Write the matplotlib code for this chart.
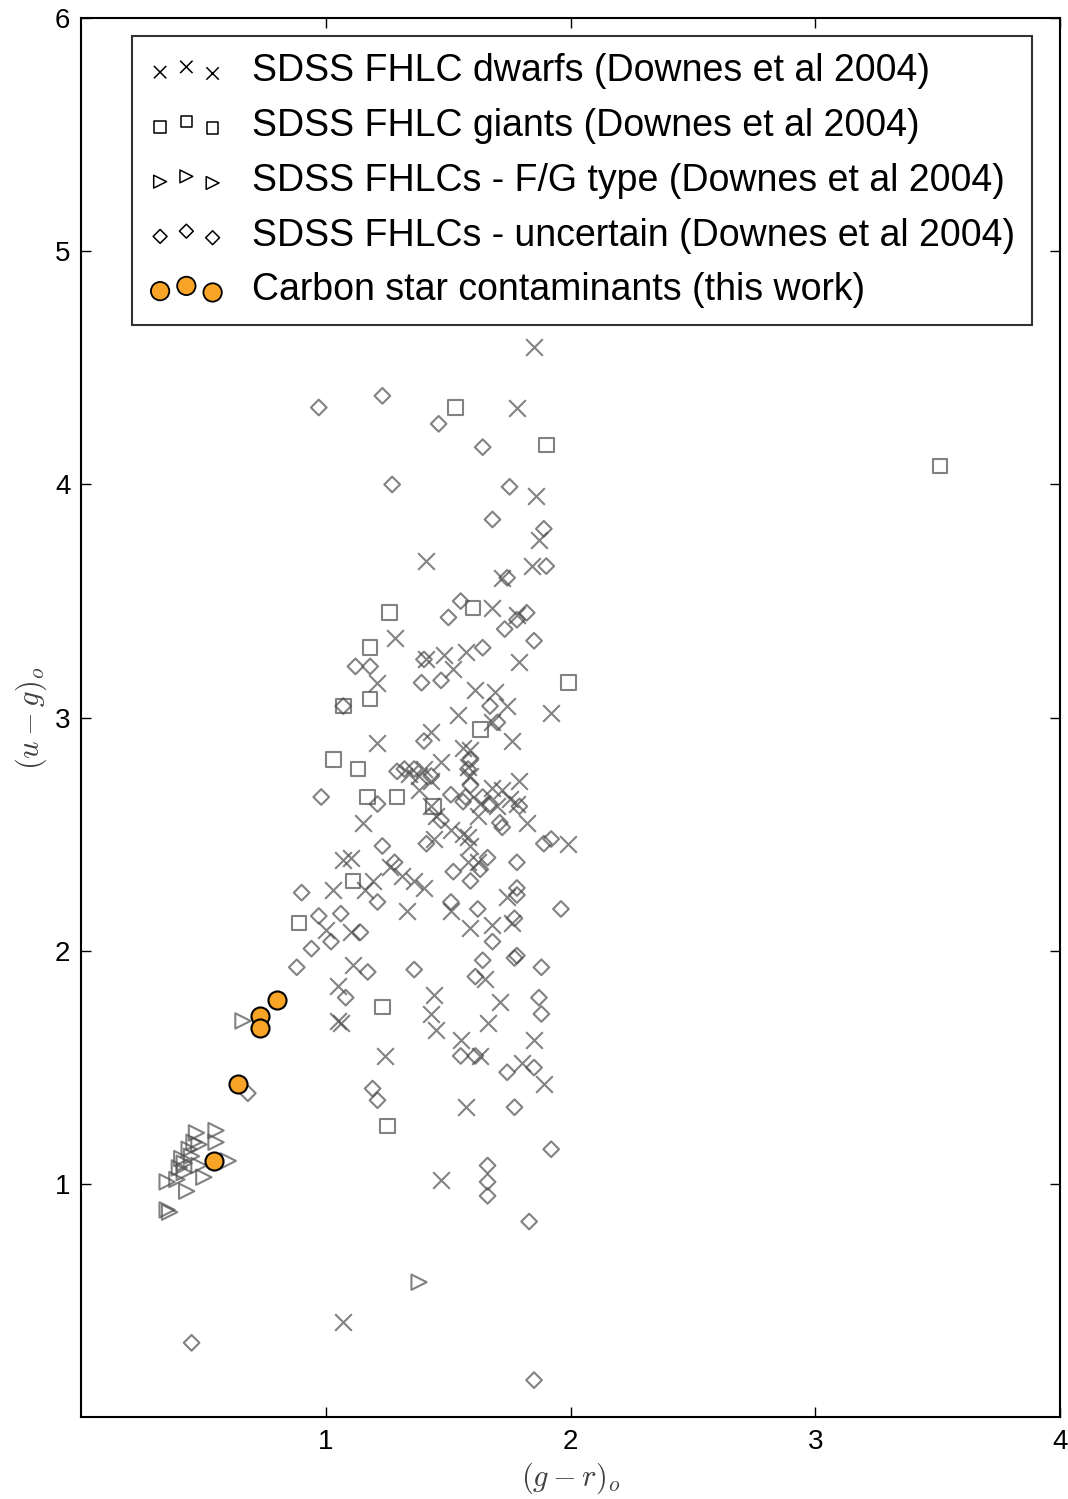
import matplotlib
matplotlib.use('Agg')
import matplotlib.pyplot as plt
import numpy as np

plt.rcParams['font.family'] = ['Liberation Sans', 'DejaVu Sans']
plt.rcParams['mathtext.fontset'] = 'cm'

# (g-r)_o, (u-g)_o colours for each sample
dwarf_gr = [1.85, 1.78, 1.86, 1.87, 1.84, 1.72, 1.41, 1.68, 1.78, 1.28, 1.48, 1.57, 1.41, 1.52,
            1.79, 1.21, 1.61, 1.69, 1.74, 1.92, 1.54, 1.76, 1.43, 1.21, 1.68, 1.34, 1.38, 1.40,
            1.43, 1.38, 1.47, 1.56, 1.59, 1.58, 1.59, 1.68, 1.79, 1.75, 1.78, 1.70, 1.82, 1.72,
            1.43, 1.45, 1.51, 1.63, 1.62, 1.58, 1.15, 1.44, 1.56, 1.59, 1.58, 1.62, 1.99, 1.07,
            1.10, 1.03, 1.19, 1.26, 1.31, 1.36, 1.40, 1.16, 1.74, 1.33, 1.51, 1.59, 1.68, 1.76,
            1.00, 1.10, 1.11, 1.65, 1.44, 1.05, 1.43, 1.45, 1.71, 1.66, 1.05, 1.06, 1.55, 1.63,
            1.24, 1.85, 1.80, 1.89, 1.57, 1.47, 1.07]
dwarf_ug = [4.59, 4.33, 3.95, 3.76, 3.65, 3.60, 3.67, 3.47, 3.44, 3.34, 3.27, 3.28, 3.25, 3.21,
            3.24, 3.15, 3.12, 3.11, 3.05, 3.02, 3.01, 2.90, 2.94, 2.89, 2.98, 2.76, 2.75, 2.78,
            2.73, 2.69, 2.81, 2.87, 2.86, 2.79, 2.75, 2.70, 2.73, 2.65, 2.63, 2.62, 2.55, 2.69,
            2.62, 2.58, 2.52, 2.63, 2.58, 2.49, 2.55, 2.48, 2.50, 2.45, 2.38, 2.38, 2.46, 2.39,
            2.40, 2.26, 2.30, 2.36, 2.32, 2.30, 2.27, 2.26, 2.23, 2.17, 2.17, 2.10, 2.11, 2.12,
            2.09, 2.08, 1.94, 1.88, 1.81, 1.85, 1.73, 1.66, 1.78, 1.69, 1.70, 1.69, 1.62, 1.55,
            1.55, 1.62, 1.52, 1.43, 1.33, 1.02, 0.41]

giant_gr = [3.51, 1.53, 1.90, 1.26, 1.60, 1.18, 1.18, 1.07, 1.99, 1.63, 1.03, 1.13, 1.17, 1.29,
            1.44, 1.11, 0.89, 1.23, 1.25]
giant_ug = [4.08, 4.33, 4.17, 3.45, 3.47, 3.30, 3.08, 3.05, 3.15, 2.95, 2.82, 2.78, 2.66, 2.66,
            2.62, 2.30, 2.12, 1.76, 1.25]

fg_gr = [0.47, 0.55, 0.55, 0.46, 0.44, 0.41, 0.40, 0.42, 0.48, 0.60, 0.50, 0.43, 0.35, 0.39,
         0.35, 0.36, 0.42, 0.45, 0.48, 0.66, 1.38]
fg_ug = [1.22, 1.23, 1.18, 1.18, 1.15, 1.11, 1.07, 1.09, 1.08, 1.10, 1.03, 0.97, 1.01, 1.02,
         0.89, 0.88, 1.05, 1.12, 1.17, 1.70, 0.58]

unc_gr = [0.97, 1.23, 1.46, 1.27, 1.64, 1.68, 1.75, 1.89, 1.90, 1.74, 1.55, 1.50, 1.82, 1.73,
          1.85, 1.64, 1.78, 1.40, 1.12, 1.18, 1.39, 1.47, 1.07, 1.67, 1.70, 1.40, 1.29, 1.32,
          1.36, 1.43, 1.59, 1.58, 1.59, 1.57, 1.64, 1.67, 1.71, 1.79, 1.51, 1.56, 1.47, 1.72,
          0.98, 1.21, 1.23, 1.41, 1.66, 1.52, 1.59, 1.63, 1.78, 1.89, 1.92, 1.28, 0.90, 1.21,
          1.51, 1.62, 1.78, 1.78, 1.77, 1.96, 0.97, 1.06, 1.14, 1.02, 0.94, 0.88, 1.17, 1.36,
          1.68, 1.64, 1.77, 1.78, 1.88, 1.61, 1.08, 1.87, 1.88, 1.55, 1.61, 1.74, 1.85, 0.68,
          1.19, 1.21, 1.77, 1.92, 1.66, 1.66, 1.66, 1.83, 0.45, 1.85]
unc_ug = [4.33, 4.38, 4.26, 4.00, 4.16, 3.85, 3.99, 3.81, 3.65, 3.60, 3.50, 3.43, 3.45, 3.38,
          3.33, 3.30, 3.42, 3.25, 3.22, 3.22, 3.15, 3.16, 3.05, 3.05, 2.98, 2.90, 2.77, 2.78,
          2.78, 2.75, 2.82, 2.78, 2.71, 2.66, 2.66, 2.63, 2.55, 2.62, 2.67, 2.64, 2.56, 2.53,
          2.66, 2.63, 2.45, 2.46, 2.40, 2.34, 2.30, 2.35, 2.38, 2.46, 2.48, 2.38, 2.25, 2.21,
          2.21, 2.18, 2.27, 2.24, 2.14, 2.18, 2.15, 2.16, 2.08, 2.04, 2.01, 1.93, 1.91, 1.92,
          2.04, 1.96, 1.97, 1.98, 1.93, 1.89, 1.80, 1.80, 1.73, 1.55, 1.55, 1.48, 1.50, 1.39,
          1.41, 1.36, 1.33, 1.15, 1.08, 1.01, 0.95, 0.84, 0.32, 0.16]

carbon_gr = [0.80, 0.73, 0.73, 0.64, 0.54]
carbon_ug = [1.79, 1.72, 1.67, 1.43, 1.10]

labels = ['SDSS FHLC dwarfs (Downes et al 2004)',
          'SDSS FHLC giants (Downes et al 2004)',
          'SDSS FHLCs - F/G type (Downes et al 2004)',
          'SDSS FHLCs - uncertain (Downes et al 2004)',
          'Carbon star contaminants (this work)']

grey = (0.3, 0.3, 0.3, 0.7)
orange = '#f8a426'

fig = plt.figure(figsize=(10.68, 14.99), dpi=100)
ax = fig.add_axes([0.0763, 0.0544, 0.9162, 0.9336])

kw = dict(facecolors='none', edgecolors=[grey], linewidths=1.5)
ax.scatter(unc_gr, unc_ug, marker='D', s=8.0 ** 2, **kw)
ax.scatter(giant_gr, giant_ug, marker='s', s=10.5 ** 2, **kw)
ax.scatter(fg_gr, fg_ug, marker='>', s=11 ** 2, **kw)
ax.scatter(dwarf_gr, dwarf_ug, marker='x', s=12 ** 2, c=[grey], linewidths=1.5)
ax.scatter(carbon_gr, carbon_ug, marker='o', s=13 ** 2, facecolors=orange,
           edgecolors='k', linewidths=1.5, zorder=5)

# black proxies for the legend
h = [ax.scatter([], [], marker='x', s=80, c='k', linewidths=1.1),
     ax.scatter([], [], marker='s', s=70, facecolors='none', edgecolors='k', linewidths=1.1),
     ax.scatter([], [], marker='>', s=85, facecolors='none', edgecolors='k', linewidths=1.1),
     ax.scatter([], [], marker='D', s=50, facecolors='none', edgecolors='k', linewidths=1.1),
     ax.scatter([], [], marker='o', s=175, facecolors=orange, edgecolors='k', linewidths=1.3)]
leg = ax.legend(h, labels, loc='upper left', bbox_to_anchor=(0.0516, 0.9868),
                borderaxespad=0, scatterpoints=3, scatteryoffsets=[0.35, 0.55, 0.3],
                fontsize=27, frameon=True, fancybox=False, handlelength=2.0,
                handletextpad=0.75, labelspacing=0.5, borderpad=0.45)
leg.get_frame().set_edgecolor('k')
leg.get_frame().set_linewidth(1.5)

ax.set_xlim(0, 4)
ax.set_ylim(0, 6)
ax.set_xticks([1, 2, 3, 4])
ax.set_yticks([1, 2, 3, 4, 5, 6])
ax.tick_params(direction='in', length=7, width=1.0, labelsize=20, top=True, right=True, pad=8)
for sp in ax.spines.values():
    sp.set_linewidth(1.5)

ax.set_xlabel(r'$(g-r)_o$', fontsize=22, color='0.25', labelpad=4)
ax.set_ylabel(r'$(u-g)_o$', fontsize=22, color='0.25', labelpad=4)

fig.savefig('out.png', dpi=100)
